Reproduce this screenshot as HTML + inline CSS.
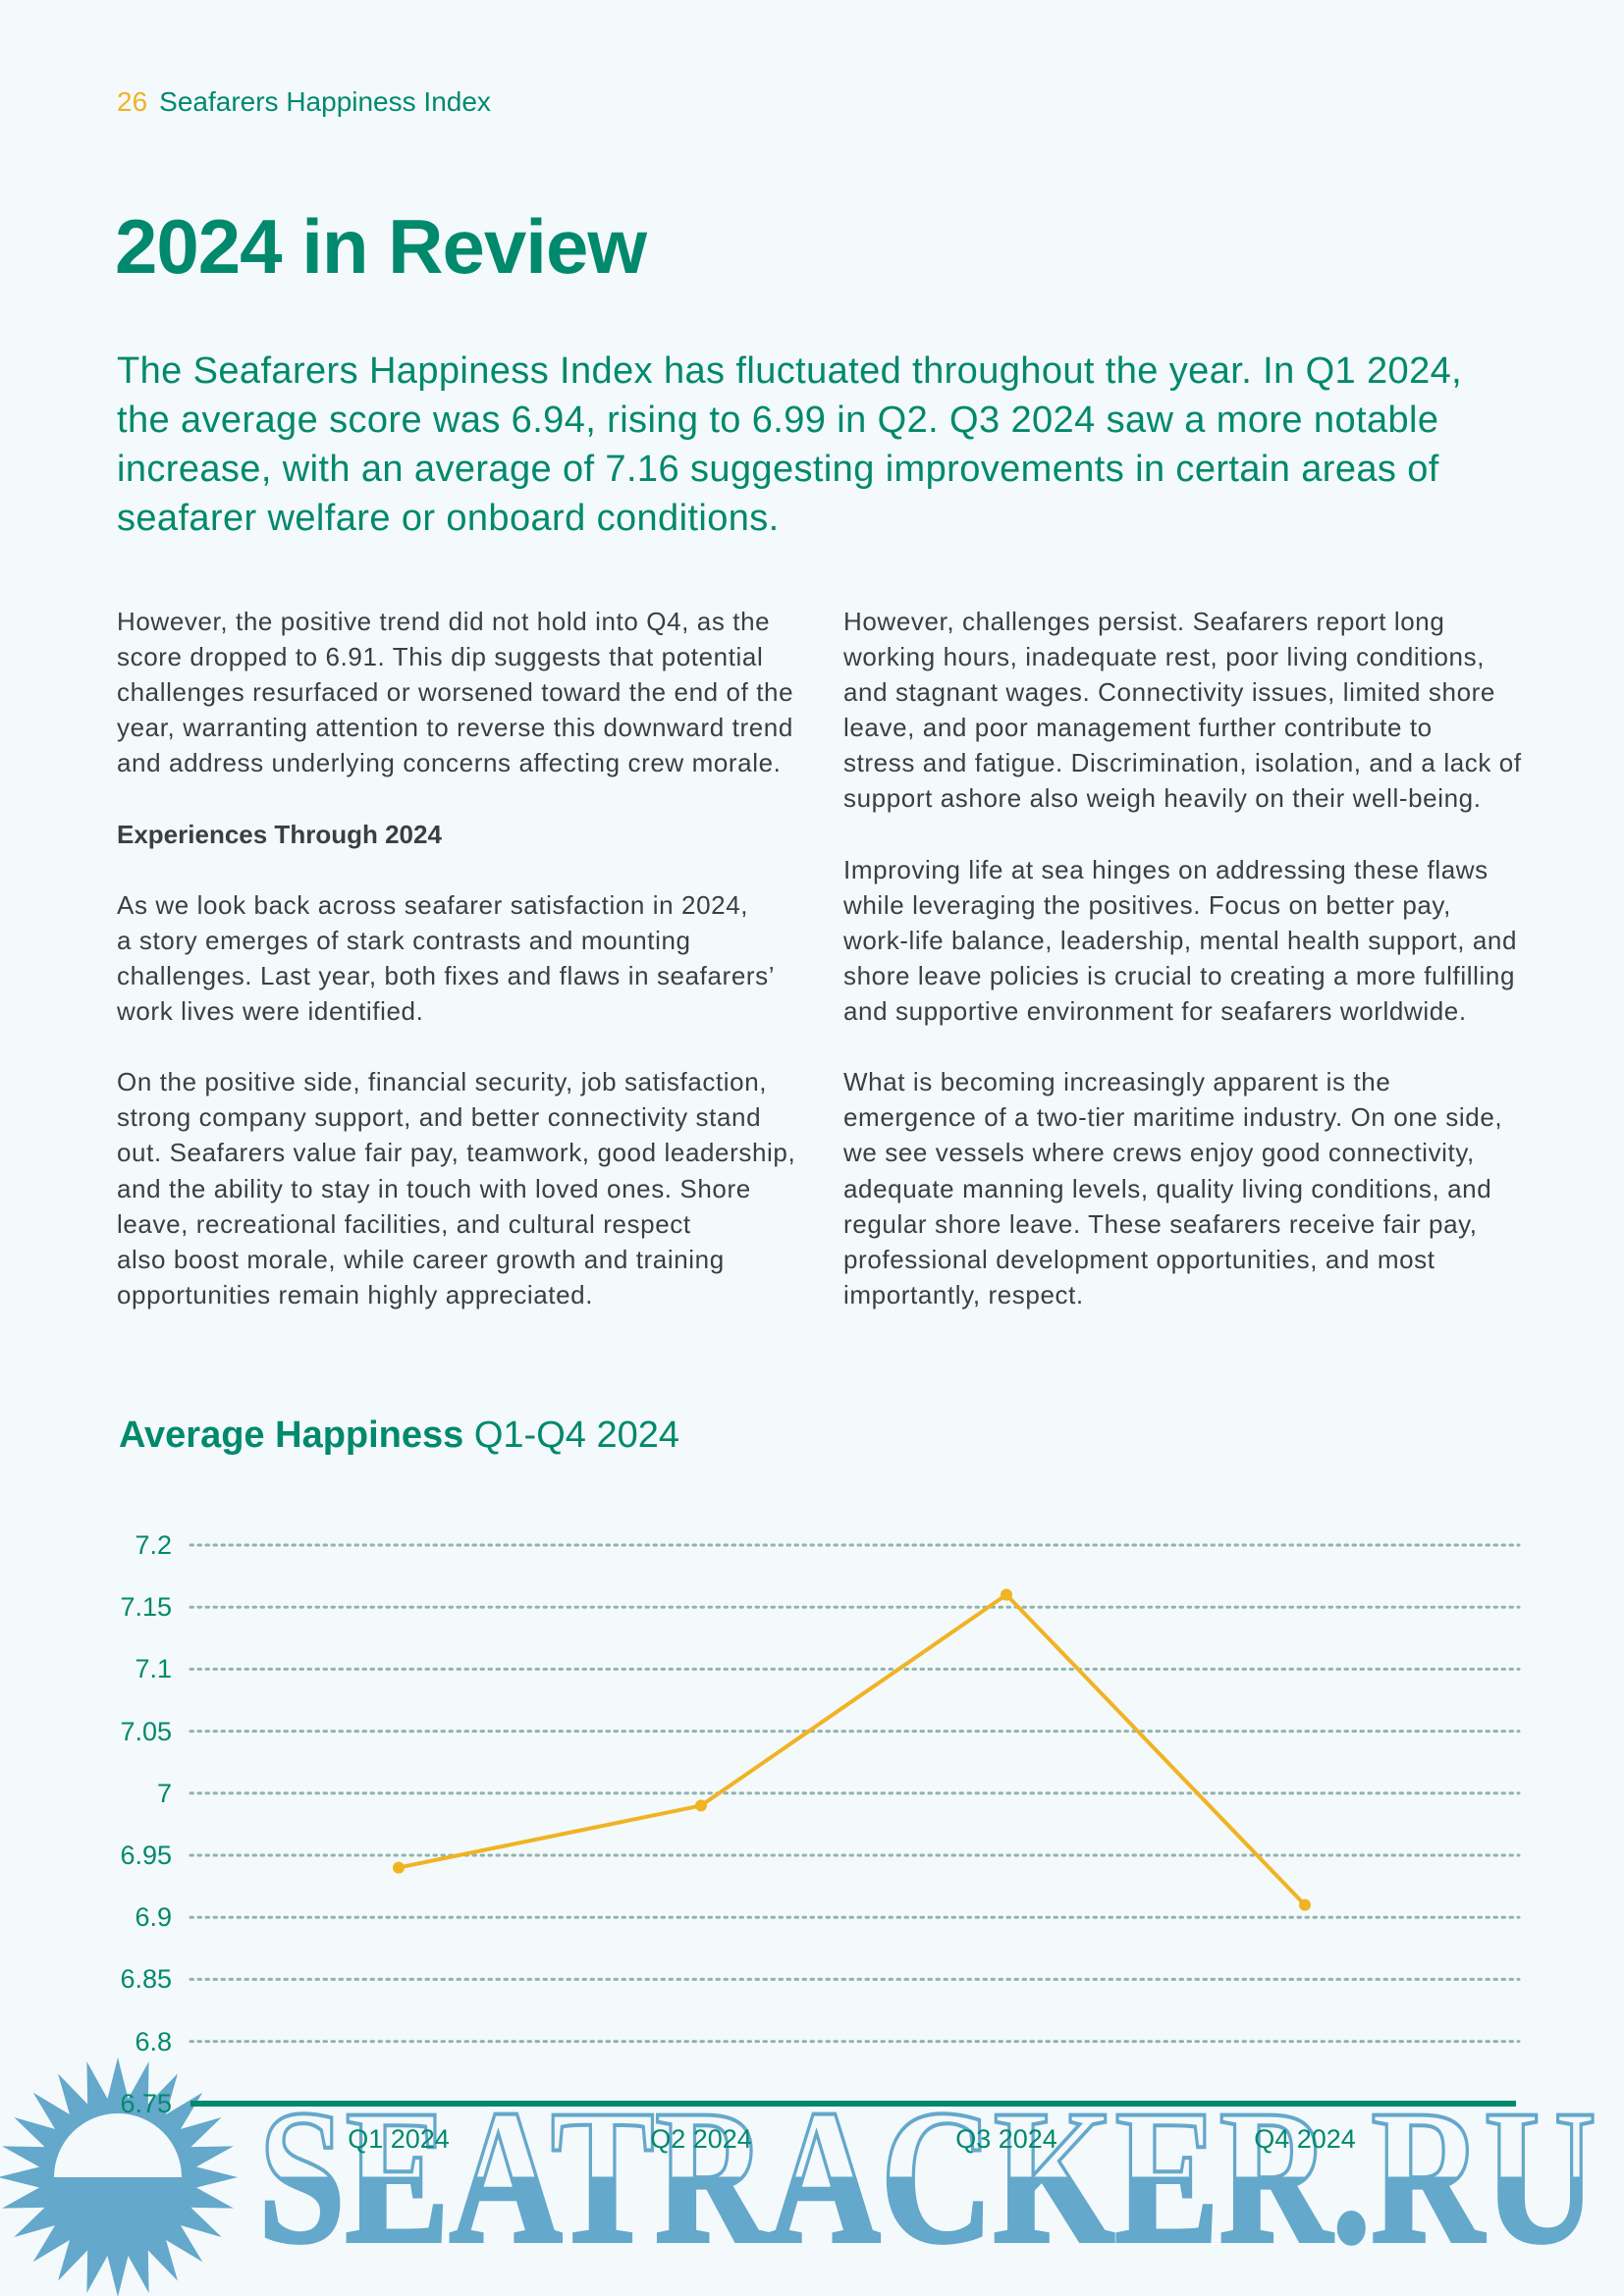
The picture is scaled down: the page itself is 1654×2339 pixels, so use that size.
<!DOCTYPE html>
<html><head><meta charset="utf-8"><style>
html,body{margin:0;padding:0;}
body{width:1654px;height:2339px;background:#f4f9fb;position:relative;overflow:hidden;font-family:"Liberation Sans",sans-serif;}
.abs{position:absolute;white-space:nowrap;}
.hdr{left:119px;top:88px;font-size:28px;color:#00896d;}
.hdr span{color:#f0b323;margin-right:12px;}
.title{left:117px;top:206px;font-size:78px;font-weight:bold;color:#00896d;letter-spacing:-1px;}
.intro{left:119px;top:353px;font-size:38px;line-height:50px;color:#00896d;letter-spacing:0.4px;}
.col{font-size:26px;line-height:36.1px;color:#3a3f44;letter-spacing:0.6px;}
.col b{font-weight:bold;letter-spacing:0;}
.ct{left:121px;top:1441px;font-size:38px;color:#00896d;}
</style></head><body>
<div class="abs hdr"><span>26</span>Seafarers Happiness Index</div>
<div class="abs title">2024 in Review</div>
<div class="abs intro">The Seafarers Happiness Index has fluctuated throughout the year. In Q1 2024,<br>the average score was 6.94, rising to 6.99 in Q2. Q3 2024 saw a more notable<br>increase, with an average of 7.16 suggesting improvements in certain areas of<br>seafarer welfare or onboard conditions.</div>

<div class="abs col" style="left:119px;top:615px;">However, the positive trend did not hold into Q4, as the<br>score dropped to 6.91. This dip suggests that potential<br>challenges resurfaced or worsened toward the end of the<br>year, warranting attention to reverse this downward trend<br>and address underlying concerns affecting crew morale.<br><br><b>Experiences Through 2024</b><br><br>As we look back across seafarer satisfaction in 2024,<br>a story emerges of stark contrasts and mounting<br>challenges. Last year, both fixes and flaws in seafarers’<br>work lives were identified.<br><br>On the positive side, financial security, job satisfaction,<br>strong company support, and better connectivity stand<br>out. Seafarers value fair pay, teamwork, good leadership,<br>and the ability to stay in touch with loved ones. Shore<br>leave, recreational facilities, and cultural respect<br>also boost morale, while career growth and training<br>opportunities remain highly appreciated.</div>

<div class="abs col" style="left:859px;top:615px;">However, challenges persist. Seafarers report long<br>working hours, inadequate rest, poor living conditions,<br>and stagnant wages. Connectivity issues, limited shore<br>leave, and poor management further contribute to<br>stress and fatigue. Discrimination, isolation, and a lack of<br>support ashore also weigh heavily on their well-being.<br><br>Improving life at sea hinges on addressing these flaws<br>while leveraging the positives. Focus on better pay,<br>work-life balance, leadership, mental health support, and<br>shore leave policies is crucial to creating a more fulfilling<br>and supportive environment for seafarers worldwide.<br><br>What is becoming increasingly apparent is the<br>emergence of a two-tier maritime industry. On one side,<br>we see vessels where crews enjoy good connectivity,<br>adequate manning levels, quality living conditions, and<br>regular shore leave. These seafarers receive fair pay,<br>professional development opportunities, and most<br>importantly, respect.</div>

<div class="abs ct"><b>Average Happiness</b> Q1-Q4 2024</div>

<svg class="abs" style="left:0;top:0" width="1654" height="2339" viewBox="0 0 1654 2339">
<g stroke="#8fb5ad" stroke-width="3" stroke-dasharray="2.5 5.5" stroke-linecap="round">
<line x1="194" x2="1547" y1="1574" y2="1574"/>
<line x1="194" x2="1547" y1="1637.2" y2="1637.2"/>
<line x1="194" x2="1547" y1="1700.4" y2="1700.4"/>
<line x1="194" x2="1547" y1="1763.6" y2="1763.6"/>
<line x1="194" x2="1547" y1="1826.8" y2="1826.8"/>
<line x1="194" x2="1547" y1="1890" y2="1890"/>
<line x1="194" x2="1547" y1="1953.2" y2="1953.2"/>
<line x1="194" x2="1547" y1="2016.4" y2="2016.4"/>
<line x1="194" x2="1547" y1="2079.6" y2="2079.6"/>
</g>
<g font-family="Liberation Sans, sans-serif" font-size="27" fill="#00896d" text-anchor="end">
<text x="175" y="1583">7.2</text>
<text x="175" y="1646">7.15</text>
<text x="175" y="1709">7.1</text>
<text x="175" y="1773">7.05</text>
<text x="175" y="1836">7</text>
<text x="175" y="1899">6.95</text>
<text x="175" y="1962">6.9</text>
<text x="175" y="2025">6.85</text>
<text x="175" y="2089">6.8</text>
</g>
<g transform="translate(120 2218)" fill="#64a8cb">
<circle r="80"/>
<g id="sp"><polygon points="0,-122 -13,-70 13,-70"/></g>
<use href="#sp" transform="rotate(15)"/><use href="#sp" transform="rotate(30)"/><use href="#sp" transform="rotate(45)"/>
<use href="#sp" transform="rotate(60)"/><use href="#sp" transform="rotate(75)"/><use href="#sp" transform="rotate(90)"/>
<use href="#sp" transform="rotate(105)"/><use href="#sp" transform="rotate(120)"/><use href="#sp" transform="rotate(135)"/>
<use href="#sp" transform="rotate(150)"/><use href="#sp" transform="rotate(165)"/><use href="#sp" transform="rotate(180)"/>
<use href="#sp" transform="rotate(195)"/><use href="#sp" transform="rotate(210)"/><use href="#sp" transform="rotate(225)"/>
<use href="#sp" transform="rotate(240)"/><use href="#sp" transform="rotate(255)"/><use href="#sp" transform="rotate(270)"/>
<use href="#sp" transform="rotate(285)"/><use href="#sp" transform="rotate(300)"/><use href="#sp" transform="rotate(315)"/>
<use href="#sp" transform="rotate(330)"/><use href="#sp" transform="rotate(345)"/>
<path d="M-65,0 A65,65 0 0 1 65,0 Z" fill="#f4f9fb"/>
</g>
<text x="175" y="2152" font-family="Liberation Sans, sans-serif" font-size="27" fill="#00896d" text-anchor="end">6.75</text>
<line x1="194" x2="1544" y1="2143" y2="2143" stroke="#00896d" stroke-width="6"/>
<defs><linearGradient id="wg" gradientUnits="userSpaceOnUse" x1="0" y1="2150" x2="0" y2="2285">
<stop offset="0.5" stop-color="#f4f9fb"/><stop offset="0.5" stop-color="#64a8cb"/></linearGradient></defs>
<text x="263" y="2283" font-family="Liberation Serif, serif" font-weight="bold" font-size="196" textLength="1363" lengthAdjust="spacingAndGlyphs" fill="url(#wg)" stroke="#64a8cb" stroke-width="4">SEATRACKER.RU</text>
<g font-family="Liberation Sans, sans-serif" font-size="27" fill="#00896d" text-anchor="middle">
<text x="406" y="2188">Q1 2024</text>
<text x="714" y="2188">Q2 2024</text>
<text x="1025" y="2188">Q3 2024</text>
<text x="1329" y="2188">Q4 2024</text>
</g>
<polyline points="406,1902.6 714,1839.4 1025,1624.6 1329,1940.6" fill="none" stroke="#f0b323" stroke-width="4" stroke-linejoin="round"/>
<g fill="#f0b323"><circle cx="406" cy="1902.6" r="6"/><circle cx="714" cy="1839.4" r="6"/><circle cx="1025" cy="1624.6" r="6"/><circle cx="1329" cy="1940.6" r="6"/></g>
</svg>
</body></html>
